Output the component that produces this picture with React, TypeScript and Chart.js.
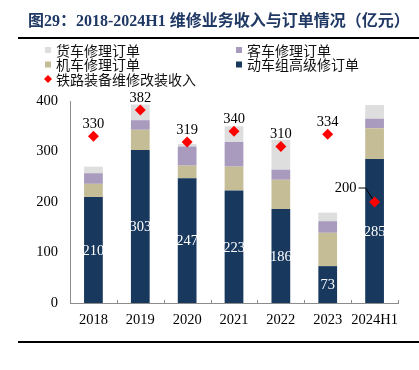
import React, { useEffect, useRef } from "react";
import { Chart, registerables } from "chart.js";
Chart.register(...registerables);

const categories = ["2018", "2019", "2020", "2021", "2022", "2023", "2024H1"];
const emuOrders = [210, 303, 247, 223, 186, 73, 285];
const locoOrders = [26, 40, 25, 47, 58, 66, 61];
const passengerOrders = [21, 19, 38, 49, 20, 23, 19];
const freightOrders = [13, 31, 5, 31, 59, 17, 27];
const revenue = [330, 382, 319, 340, 310, 334, 200];
const yTickStep = 100;
const yMax = 400;

const titleText = "图29：2018-2024H1 维修业务收入与订单情况（亿元）";
const nameFreight = "货车修理订单";
const namePassenger = "客车修理订单";
const nameLoco = "机车修理订单";
const nameEmu = "动车组高级修订单";
const nameRevenue = "铁路装备维修改装收入";

const cFreight = "#dedede";
const cPassenger = "#a99bbd";
const cLoco = "#c5bd96";
const cEmu = "#18385e";
const cRed = "#ff0000";

const serif = "'Liberation Serif', 'Times New Roman', serif";
const cjk = "'Noto Sans CJK SC', sans-serif";

const decorPlugin = {
  id: "decor",
  afterDraw(chart: any) {
    const ctx = chart.ctx as CanvasRenderingContext2D;
    const area = chart.chartArea;
    ctx.save();
    // title
    ctx.fillStyle = "#1f3864";
    ctx.font = `bold 16px ${serif}, ${cjk}`;
    ctx.textAlign = "left";
    ctx.textBaseline = "middle";
    ctx.fillText(titleText, 28, 22);
    // lines
    ctx.fillStyle = "#000";
    ctx.fillRect(18, 37, 401, 2);
    ctx.fillRect(18, 341, 401, 2);
    // legend
    const items = [
      { x: 45, y: 50, color: cFreight, label: nameFreight, diamond: false },
      { x: 236, y: 50, color: cPassenger, label: namePassenger, diamond: false },
      { x: 45, y: 64.5, color: cLoco, label: nameLoco, diamond: false },
      { x: 236, y: 64.5, color: cEmu, label: nameEmu, diamond: false },
      { x: 45, y: 79, color: cRed, label: nameRevenue, diamond: true },
    ];
    ctx.font = `14px ${cjk}`;
    items.forEach((it) => {
      ctx.fillStyle = it.color;
      if (it.diamond) {
        ctx.beginPath();
        ctx.moveTo(it.x + 3, it.y - 4);
        ctx.lineTo(it.x + 7, it.y);
        ctx.lineTo(it.x + 3, it.y + 4);
        ctx.lineTo(it.x - 1, it.y);
        ctx.closePath();
        ctx.fill();
      } else {
        ctx.fillRect(it.x, it.y - 3, 6, 6);
      }
      ctx.fillStyle = "#111";
      ctx.fillText(it.label, it.x + 11, it.y + 0.5);
    });
    // x-axis tick marks (inward)
    const step = (area.right - area.left) / categories.length;
    ctx.strokeStyle = "#8c8c8c";
    ctx.lineWidth = 1;
    for (let i = 0; i <= categories.length; i++) {
      const x = Math.round(area.left + step * i) + 0.5;
      ctx.beginPath();
      ctx.moveTo(x, area.bottom);
      ctx.lineTo(x, area.bottom - 3);
      ctx.stroke();
    }
    // emu labels
    ctx.font = `14.5px ${serif}`;
    ctx.textAlign = "center";
    ctx.textBaseline = "middle";
    const emuMeta = chart.getDatasetMeta(0);
    emuMeta.data.forEach((bar: any, i: number) => {
      const cy = (bar.y + bar.base) / 2;
      ctx.fillStyle = "#fff";
      ctx.fillText(String(emuOrders[i]), bar.x, cy + 1);
    });
    // revenue labels
    const revMeta = chart.getDatasetMeta(4);
    revMeta.data.forEach((pt: any, i: number) => {
      ctx.fillStyle = "#000";
      if (i === categories.length - 1) {
        const lx = pt.x - 29;
        const ly = pt.y - 14;
        ctx.fillText(String(revenue[i]), lx, ly);
        ctx.strokeStyle = "#000";
        ctx.lineWidth = 1;
        ctx.beginPath();
        ctx.moveTo(lx + 13, ly);
        ctx.lineTo(lx + 20, ly);
        ctx.lineTo(pt.x - 2, pt.y - 3);
        ctx.stroke();
      } else {
        ctx.fillText(String(revenue[i]), pt.x, pt.y - 12);
      }
    });
    ctx.restore();
  },
};

export default function App() {
  const ref = useRef<HTMLCanvasElement | null>(null);
  useEffect(() => {
    if (!ref.current) return;
    const chart = new Chart(ref.current, {
      type: "bar",
      data: {
        labels: categories,
        datasets: [
          { label: nameEmu, data: emuOrders, backgroundColor: cEmu, stack: "orders", order: 1, barPercentage: 0.4, categoryPercentage: 1 },
          { label: nameLoco, data: locoOrders, backgroundColor: cLoco, stack: "orders", order: 1, barPercentage: 0.4, categoryPercentage: 1 },
          { label: namePassenger, data: passengerOrders, backgroundColor: cPassenger, stack: "orders", order: 1, barPercentage: 0.4, categoryPercentage: 1 },
          { label: nameFreight, data: freightOrders, backgroundColor: cFreight, stack: "orders", order: 1, barPercentage: 0.4, categoryPercentage: 1 },
          {
            type: "line",
            label: nameRevenue,
            data: revenue,
            stack: "rev",
            order: 0,
            showLine: false,
            pointStyle: "rectRot",
            pointRadius: 5.5,
            backgroundColor: cRed,
            borderColor: cRed,
            borderWidth: 0,
          } as any,
        ],
      },
      options: {
        animation: false,
        responsive: false,
        maintainAspectRatio: false,
        devicePixelRatio: 1,
        layout: { padding: { top: 101, left: 0, right: 21, bottom: 37 } },
        plugins: { legend: { display: false }, tooltip: { enabled: false }, title: { display: false } },
        scales: {
          x: {
            stacked: true,
            offset: true,
            grid: { display: false, drawTicks: false },
            border: { display: true, color: "#8c8c8c" },
            ticks: { color: "#000", font: { family: serif, size: 14.5 }, padding: 8, maxRotation: 0, autoSkip: false },
            afterFit: (s: any) => { s.height = 30; },
          },
          y: {
            stacked: true,
            min: 0,
            max: yMax,
            grid: { display: false, drawTicks: false },
            border: { display: true, color: "#8c8c8c" },
            ticks: { stepSize: yTickStep, color: "#000", font: { family: serif, size: 14.5 }, padding: 12 },
            afterFit: (s: any) => { s.width = 70; },
          },
        },
      } as any,
      plugins: [decorPlugin],
    });
    return () => chart.destroy();
  }, []);
  return (
    <div style={{ position: "fixed", left: 0, top: 0, width: 419, height: 370, background: "#fff" }}>
      <canvas ref={ref} width={419} height={370} style={{ display: "block" }} />
    </div>
  );
}
